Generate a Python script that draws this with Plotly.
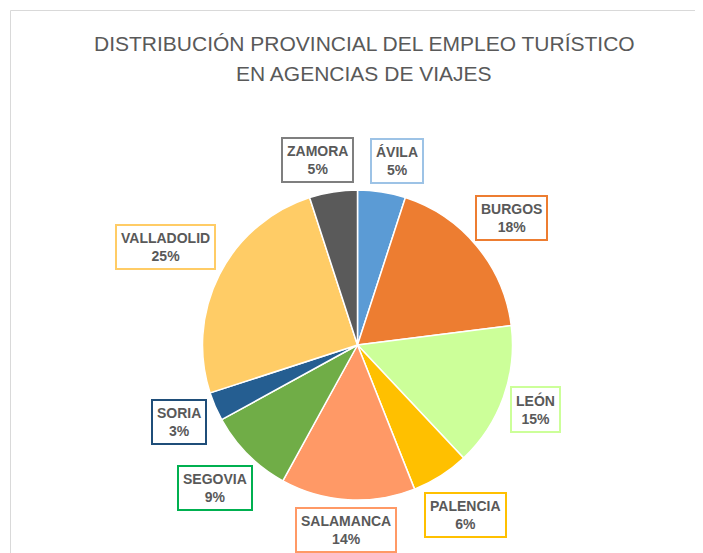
import math
import plotly.graph_objects as go

provinces = ["ÁVILA", "BURGOS", "LEÓN", "PALENCIA", "SALAMANCA",
             "SEGOVIA", "SORIA", "VALLADOLID", "ZAMORA"]
shares = [5, 18, 15, 6, 14, 9, 3, 25, 5]
slice_colors = ["#5B9BD5", "#ED7D31", "#CCFF99", "#FFC000", "#FF9966",
                "#70AD47", "#255E91", "#FFCC66", "#5A5A5A"]
box_colors = ["#9DC3E6", "#ED7D31", "#CCFF99", "#FFC000", "#FF9966",
              "#00B050", "#1F4E79", "#FFCC66", "#7F7F7F"]
title_lines = ["DISTRIBUCIÓN PROVINCIAL DEL EMPLEO TURÍSTICO", "EN AGENCIAS DE VIAJES"]

W, H = 703, 553
OFF = 8.0  # page body margin
cx, cy, R = 357.5, 345.0, 155.0
gap = 3.0
box_h = 48.0
min_sep = 16.0


def px(x):
    return (x - OFF) / W


def py(y):
    return 1 - (y - OFF) / H


fig = go.Figure(go.Pie(
    labels=provinces,
    values=shares,
    sort=False,
    direction="clockwise",
    rotation=0,
    marker=dict(colors=slice_colors, line=dict(color="white", width=1.5)),
    textinfo="none",
    hoverinfo="label+percent",
    domain=dict(x=[px(cx - R), px(cx + R)], y=[py(cy + R), py(cy - R)]),
    showlegend=False,
))

# label boxes placed just outside each slice's mid-angle
boxes = []
total = sum(shares)
cum = 0.0
for name, v in zip(provinces, shares):
    mid = (cum + v / 2) / total * 2 * math.pi
    cum += v
    sx, sy = math.sin(mid), math.cos(mid)
    box_w = 9.3 * len(name) + 12
    d = R + gap + abs(sx) * box_w / 2 + abs(sy) * box_h / 2
    boxes.append([cx + d * sx, cy - d * sy, box_w])

# push apart neighbouring boxes that overlap
n = len(boxes)
for i in range(n):
    a, b = boxes[i - 1], boxes[i]
    if abs(a[1] - b[1]) < box_h:
        need = (a[2] + b[2]) / 2 + min_sep
        dx = b[0] - a[0]
        if abs(dx) < need:
            sign = 1 if dx >= 0 else -1
            shift = (need - abs(dx)) / 2
            a[0] -= sign * shift
            b[0] += sign * shift

annotations = []
for (x, y, _), name, v, bc in zip(boxes, provinces, shares, box_colors):
    pct = round(v / total * 100)
    annotations.append(dict(
        x=px(x), y=py(y), xref="paper", yref="paper",
        xanchor="center", yanchor="middle", showarrow=False,
        text=f"<b>{name}</b><br><b>{pct}%</b>",
        font=dict(family="Liberation Sans, Arial, sans-serif", size=14, color="#595959"),
        bgcolor="white", bordercolor=bc, borderwidth=2, borderpad=4,
        align="center",
    ))

for line, yy in zip(title_lines, [43, 74]):
    annotations.append(dict(
        x=px(364), y=py(yy), xref="paper", yref="paper",
        xanchor="center", yanchor="middle", showarrow=False,
        text=line,
        font=dict(family="Liberation Sans, Arial, sans-serif", size=21, color="#595959"),
    ))

fig.update_layout(
    width=W, height=H, autosize=False,
    margin=dict(l=0, r=0, t=0, b=0),
    paper_bgcolor="white", plot_bgcolor="white",
    annotations=annotations,
    shapes=[dict(type="rect", xref="paper", yref="paper",
                 x0=px(10.5), y0=-0.05, x1=1.05, y1=py(10.5),
                 line=dict(color="#D9D9D9", width=1), layer="below")],
)

fig.write_html("out.html")
